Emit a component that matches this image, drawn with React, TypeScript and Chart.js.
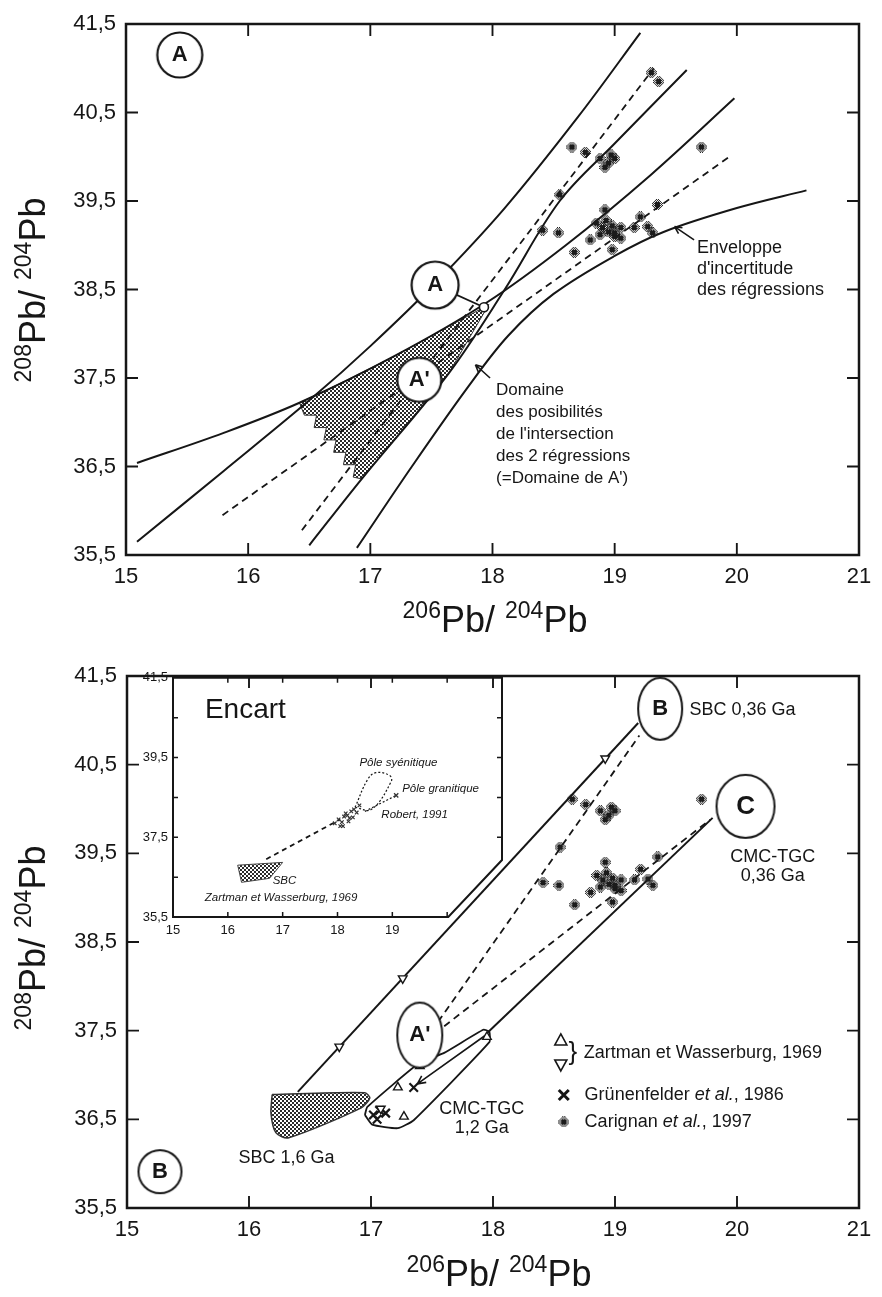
import React, { useEffect, useRef } from 'react';
import { Chart, registerables } from 'chart.js';

Chart.register(...registerables);

const FONT = "'Liberation Sans', Arial, Helvetica, sans-serif";
const INK = '#161616';

// ---------- axes ----------
const xTicks = [15, 16, 17, 18, 19, 20, 21];
const yTicks = [35.5, 36.5, 37.5, 38.5, 39.5, 40.5, 41.5];
const insetYLabelled = [35.5, 37.5, 39.5, 41.5];
const insetXLabelled = [15, 16, 17, 18, 19];
const insetCut = { x: 20.02, y: 36.93 };

// ---------- Carignan et al., 1997 ----------
const carignanX = [19.3, 19.36, 18.65, 18.76, 18.88, 18.95, 19.0, 18.92, 18.97, 19.71, 18.55, 18.41, 18.54, 18.92, 18.85, 18.9, 18.95, 19.0, 19.05, 18.88, 18.98, 19.05, 18.93, 19.0, 18.67, 18.8, 18.98, 19.16, 19.21, 19.27, 19.31, 19.35];
const carignanY = [40.95, 40.85, 40.11, 40.05, 39.98, 39.93, 39.98, 39.88, 40.02, 40.11, 39.57, 39.17, 39.14, 39.4, 39.25, 39.2, 39.15, 39.1, 39.2, 39.12, 39.22, 39.08, 39.28, 39.14, 38.92, 39.06, 38.95, 39.2, 39.32, 39.21, 39.14, 39.46];

// ---------- panel A : regressions and envelopes ----------
const reg1UpX = [15.09, 15.8, 16.52, 17.0, 17.53, 18.1, 18.7, 19.21];
const reg1UpY = [35.65, 36.45, 37.27, 37.86, 38.57, 39.42, 40.45, 41.4];
const reg1LoX = [16.5, 16.93, 17.64, 18.1, 18.55, 19.0, 19.59];
const reg1LoY = [35.61, 36.36, 37.55, 38.5, 39.5, 40.15, 40.98];
const reg2UpX = [15.09, 15.8, 16.42, 17.2, 17.95, 18.6, 19.3, 19.98];
const reg2UpY = [36.54, 36.88, 37.22, 37.75, 38.35, 39.0, 39.8, 40.66];
const reg2LoX = [16.89, 17.34, 17.8, 18.13, 18.5, 19.0, 19.4, 20.0, 20.57];
const reg2LoY = [35.58, 36.5, 37.4, 37.98, 38.45, 38.88, 39.15, 39.42, 39.62];
const dash1X = [16.44, 19.32];
const dash1Y = [35.78, 41.0];
const dash2X = [15.79, 19.96];
const dash2Y = [35.95, 40.02];
const shadeX = [16.42, 16.8, 17.2, 17.6, 17.97, 17.64, 17.3, 16.93, 16.86, 16.88, 16.78, 16.8, 16.7, 16.72, 16.62, 16.64, 16.54, 16.56, 16.46, 16.42];
const shadeY = [37.22, 37.47, 37.75, 38.05, 38.33, 37.55, 36.98, 36.36, 36.38, 36.52, 36.52, 36.66, 36.66, 36.8, 36.8, 36.94, 36.94, 37.08, 37.08, 37.22];
const aPointX = [17.93];
const aPointY = [38.3];
const aLinkX = [17.53, 17.93];
const aLinkY = [38.55, 38.3];
const topCircleX = [15.44, 17.53, 17.4];
const topCircleY = [41.15, 38.55, 37.48];
const topCircleD = [45, 47, 44];
const topCircleLabel = ['A', 'A', "A'"];

// ---------- panel B ----------
const sbcLineX = [16.4, 19.19];
const sbcLineY = [36.81, 40.97];
const cmcLineX = [17.95, 19.8];
const cmcLineY = [37.47, 39.9];
const dashBX = [17.55, 19.2];
const dashBY = [37.6, 40.83];
const dashCX = [17.6, 19.78];
const dashCY = [37.55, 39.88];
const sbc16X = [16.19, 16.95, 16.99, 16.92, 16.32, 16.22, 16.18, 16.19];
const sbc16Y = [36.78, 36.8, 36.74, 36.63, 36.29, 36.35, 36.57, 36.78];
const capsuleX = [16.95, 17.01, 17.22, 17.35, 17.97, 17.97, 17.92, 17.6, 17.4, 16.97, 16.95];
const capsuleY = [36.55, 36.44, 36.4, 36.49, 37.37, 37.49, 37.51, 37.25, 37.14, 36.64, 36.55];
const zartUpX = [17.4, 17.22, 17.27, 17.95];
const zartUpY = [37.1, 36.86, 36.53, 37.43];
const zartDownX = [16.74, 17.26, 18.92, 17.08];
const zartDownY = [37.32, 38.09, 40.57, 36.62];
const grunX = [17.02, 17.07, 17.12, 17.05, 17.35];
const grunY = [36.55, 36.6, 36.57, 36.5, 36.86];
const botEllX = [17.4, 19.37, 20.07, 15.27];
const botEllY = [37.45, 41.13, 40.03, 35.91];
const botEllW = [45, 44, 58, 43];
const botEllH = [65, 62, 63, 43];
const botEllLabel = ["A'", 'B', 'C', 'B'];

// ---------- inset (Encart) ----------
const insSbcX = [16.18, 17.0, 16.76, 16.25, 16.18];
const insSbcY = [36.8, 36.87, 36.47, 36.37, 36.8];
const insDashX = [16.7, 18.05];
const insDashY = [36.95, 37.95];
const robertX = [17.95, 18.02, 18.08, 18.12, 18.18, 18.22, 18.25, 18.3, 18.35, 18.4, 18.1, 18.2, 18.28, 18.05, 18.15];
const robertY = [37.85, 37.95, 37.88, 38.02, 38.05, 37.98, 38.15, 38.2, 38.12, 38.3, 37.78, 37.9, 38.0, 37.78, 38.1];
const syenLoopX = [18.32, 18.55, 18.7, 18.95, 18.98, 18.62, 18.32];
const syenLoopY = [38.25, 38.95, 39.12, 39.05, 38.9, 38.2, 38.25];
const graniteX = [18.5, 19.07];
const graniteY = [38.15, 38.55];

type Part = { t: string; i?: boolean };
type Note = { x: number; y: number; lines: (string | Part[])[]; size: number; lh?: number; align?: 'left' | 'center'; bold?: boolean; italic?: boolean };
type Arrow = { x1: number; y1: number; x2: number; y2: number; head?: number };
type Sym = { kind: 'up' | 'down' | 'cross' | 'blob' | 'brace'; x: number; y: number };

const pts = (xs: number[], ys: number[]) => xs.map((x, i) => ({ x, y: ys[i] }));
const lineDs = (xs: number[], ys: number[], extra: any = {}) => ({
  data: pts(xs, ys), showLine: true, pointRadius: 0, borderColor: INK, borderWidth: 2,
  tension: 0.35, fill: false, order: 5, ...extra,
});
const pointDs = (xs: number[], ys: number[], extra: any = {}) => ({
  data: pts(xs, ys), showLine: false, order: 4, ...extra,
});

function makeChecker(ctx: CanvasRenderingContext2D) {
  const c = document.createElement('canvas');
  c.width = 4; c.height = 4;
  const g = c.getContext('2d')!;
  g.fillStyle = '#fff'; g.fillRect(0, 0, 4, 4);
  g.fillStyle = '#2a2a2a'; g.fillRect(0, 0, 2, 2); g.fillRect(2, 2, 2, 2);
  return ctx.createPattern(c, 'repeat')!;
}
function makeBlob() {
  const c = document.createElement('canvas');
  c.width = 11; c.height = 11;
  const g = c.getContext('2d')!;
  g.fillStyle = '#1b1b1b';
  for (let i = 0; i < 11; i++) for (let j = 0; j < 11; j++) {
    const d = Math.hypot(i - 5, j - 5);
    if (d <= 5.2 && ((i + j) % 2 === 0 || d < 2.6)) g.fillRect(i, j, 1, 1);
  }
  return c;
}
function makeEllipse(w: number, h: number, lw = 2) {
  const c = document.createElement('canvas');
  c.width = Math.ceil(w + lw * 2 + 2); c.height = Math.ceil(h + lw * 2 + 2);
  const g = c.getContext('2d')!;
  g.beginPath();
  g.ellipse(c.width / 2, c.height / 2, w / 2, h / 2, 0, 0, Math.PI * 2);
  g.fillStyle = '#fff'; g.fill();
  g.lineWidth = lw; g.strokeStyle = INK; g.stroke();
  return c;
}

function framePlugin(o: { xt: number[]; yt: number[]; len: number; lw: number; cut?: { x: number; y: number } }) {
  return {
    id: 'frame',
    afterDatasetsDraw(chart: any) {
      const { ctx, chartArea: a, scales } = chart;
      const xs = scales.x, ys = scales.y;
      ctx.save();
      ctx.strokeStyle = INK; ctx.lineWidth = o.lw; ctx.lineJoin = 'miter';
      ctx.beginPath();
      if (o.cut) {
        const cx = xs.getPixelForValue(o.cut.x), cy = ys.getPixelForValue(o.cut.y);
        ctx.moveTo(a.left, a.top); ctx.lineTo(a.right, a.top); ctx.lineTo(a.right, cy);
        ctx.lineTo(cx, a.bottom); ctx.lineTo(a.left, a.bottom); ctx.closePath();
      } else {
        ctx.rect(a.left, a.top, a.right - a.left, a.bottom - a.top);
      }
      ctx.stroke();
      ctx.lineWidth = Math.max(1.5, o.lw * 0.75);
      ctx.beginPath();
      o.xt.forEach((v) => {
        if (v <= xs.min || v >= xs.max) return;
        const p = xs.getPixelForValue(v);
        ctx.moveTo(p, a.top); ctx.lineTo(p, a.top + o.len);
        if (!o.cut || v < o.cut.x) { ctx.moveTo(p, a.bottom); ctx.lineTo(p, a.bottom - o.len); }
      });
      o.yt.forEach((v) => {
        if (v <= ys.min || v >= ys.max) return;
        const p = ys.getPixelForValue(v);
        ctx.moveTo(a.left, p); ctx.lineTo(a.left + o.len, p);
        if (!o.cut || v > o.cut.y) { ctx.moveTo(a.right, p); ctx.lineTo(a.right - o.len, p); }
      });
      ctx.stroke();
      ctx.restore();
    },
  };
}

function notesPlugin(notes: Note[], arrows: Arrow[], syms: Sym[], blob?: HTMLCanvasElement) {
  return {
    id: 'notes',
    afterDatasetsDraw(chart: any) {
      const { ctx, scales } = chart;
      const X = (v: number) => scales.x.getPixelForValue(v);
      const Y = (v: number) => scales.y.getPixelForValue(v);
      ctx.save();
      ctx.strokeStyle = INK; ctx.fillStyle = INK; ctx.lineWidth = 1.6;
      arrows.forEach((a) => {
        const x1 = X(a.x1), y1 = Y(a.y1), x2 = X(a.x2), y2 = Y(a.y2);
        const h = a.head ?? 8;
        const ang = Math.atan2(y2 - y1, x2 - x1);
        ctx.beginPath();
        ctx.moveTo(x1, y1); ctx.lineTo(x2, y2);
        ctx.moveTo(x2, y2); ctx.lineTo(x2 - h * Math.cos(ang - 0.45), y2 - h * Math.sin(ang - 0.45));
        ctx.moveTo(x2, y2); ctx.lineTo(x2 - h * Math.cos(ang + 0.45), y2 - h * Math.sin(ang + 0.45));
        ctx.stroke();
      });
      syms.forEach((s) => {
        const x = X(s.x), y = Y(s.y);
        ctx.beginPath();
        if (s.kind === 'up' || s.kind === 'down') {
          const d = s.kind === 'up' ? 1 : -1;
          ctx.lineWidth = 1.6;
          ctx.moveTo(x, y - 6 * d); ctx.lineTo(x + 6, y + 5 * d); ctx.lineTo(x - 6, y + 5 * d); ctx.closePath();
          ctx.stroke();
        } else if (s.kind === 'cross') {
          ctx.lineWidth = 3;
          ctx.moveTo(x - 5, y - 5); ctx.lineTo(x + 5, y + 5); ctx.moveTo(x + 5, y - 5); ctx.lineTo(x - 5, y + 5);
          ctx.stroke();
        } else if (s.kind === 'blob' && blob) {
          ctx.drawImage(blob, x - blob.width / 2, y - blob.height / 2);
        } else if (s.kind === 'brace') {
          ctx.font = `26px ${FONT}`; ctx.textAlign = 'center'; ctx.textBaseline = 'middle';
          ctx.fillText('}', x, y);
        }
      });
      notes.forEach((n) => {
        const lh = n.lh ?? n.size * 1.2;
        n.lines.forEach((ln, k) => {
          const parts: Part[] = typeof ln === 'string' ? [{ t: ln }] : ln;
          const fontOf = (p: Part) => `${(p.i || n.italic) ? 'italic ' : ''}${n.bold ? 'bold ' : ''}${n.size}px ${FONT}`;
          const widths = parts.map((p) => { ctx.font = fontOf(p); return ctx.measureText(p.t).width; });
          const total = widths.reduce((s, w) => s + w, 0);
          let px = X(n.x) - (n.align === 'center' ? total / 2 : 0);
          const py = Y(n.y) + k * lh;
          ctx.textAlign = 'left'; ctx.textBaseline = 'middle'; ctx.fillStyle = INK;
          parts.forEach((p, i) => { ctx.font = fontOf(p); ctx.fillText(p.t, px, py); px += widths[i]; });
        });
      });
      ctx.restore();
    },
  };
}

function scalesCfg(o: { xt: number[]; yt: number[]; size: number; xpad: number; ypad: number; yWidth: number; xHeight: number; xLab: (v: number) => string; yLab: (v: number) => string }) {
  const tick = (pad: number, cb: (v: number) => string) => ({
    color: INK, font: { family: FONT, size: o.size }, padding: pad, autoSkip: false, maxRotation: 0,
    callback: (v: any) => cb(Number(v)),
  });
  return {
    x: {
      type: 'linear', min: 15, max: 21,
      afterBuildTicks: (s: any) => { s.ticks = o.xt.map((v) => ({ value: v })); },
      afterFit: (s: any) => { s.height = o.xHeight; },
      ticks: tick(o.xpad, o.xLab),
      grid: { display: false, drawTicks: false }, border: { display: false },
    },
    y: {
      type: 'linear', min: 35.5, max: 41.5,
      afterBuildTicks: (s: any) => { s.ticks = o.yt.map((v) => ({ value: v })); },
      afterFit: (s: any) => { s.width = o.yWidth; },
      ticks: tick(o.ypad, o.yLab),
      grid: { display: false, drawTicks: false }, border: { display: false },
    },
  };
}

const baseOpts = (padding: any, scales: any) => ({
  responsive: false, animation: false, devicePixelRatio: 1, events: [],
  layout: { padding },
  plugins: { legend: { display: false }, tooltip: { enabled: false } },
  scales,
});

const comma = (v: number) => String(v).replace('.', ',');

export default function App() {
  const topRef = useRef<HTMLCanvasElement>(null);
  const botRef = useRef<HTMLCanvasElement>(null);
  const insRef = useRef<HTMLCanvasElement>(null);

  useEffect(() => {
    const blob = makeBlob();
    const patTop = makeChecker(topRef.current!.getContext('2d')!);
    const patBot = makeChecker(botRef.current!.getContext('2d')!);
    const patIns = makeChecker(insRef.current!.getContext('2d')!);

    // ----- panel A -----
    const topCircles = topCircleD.map((d) => makeEllipse(d, d, 2.2));
    const top = new Chart(topRef.current!, {
      type: 'scatter',
      data: {
        datasets: [
          lineDs(shadeX, shadeY, { fill: 'shape', backgroundColor: patTop, borderWidth: 1, borderColor: '#333', tension: 0, order: 20 }),
          lineDs(reg1UpX, reg1UpY),
          lineDs(reg1LoX, reg1LoY),
          lineDs(reg2UpX, reg2UpY),
          lineDs(reg2LoX, reg2LoY),
          lineDs(dash1X, dash1Y, { borderDash: [7, 5], borderWidth: 1.8, tension: 0 }),
          lineDs(dash2X, dash2Y, { borderDash: [7, 5], borderWidth: 1.8, tension: 0 }),
          lineDs(aLinkX, aLinkY, { borderWidth: 1.8, tension: 0, order: 6 }),
          pointDs(carignanX, carignanY, { pointStyle: blob, pointRadius: 5, order: 4 }),
          pointDs(aPointX, aPointY, { pointStyle: 'circle', pointRadius: 4.5, backgroundColor: '#fff', borderColor: INK, borderWidth: 1.6, order: 3 }),
          pointDs(topCircleX, topCircleY, { pointStyle: topCircles, pointRadius: 22, order: 2 }),
        ],
      } as any,
      options: baseOpts({ top: 24, right: 19, left: 0, bottom: 0 }, scalesCfg({
        xt: xTicks, yt: yTicks, size: 22, xpad: 9, ypad: 10, yWidth: 126, xHeight: 95,
        xLab: (v) => String(v), yLab: comma,
      })) as any,
      plugins: [
        framePlugin({ xt: xTicks, yt: yTicks, len: 12, lw: 2.5 }),
        notesPlugin([
          ...topCircleLabel.map((t, i) => ({ x: topCircleX[i], y: topCircleY[i], lines: [t], size: 22, bold: true, align: 'center' as const })),
          { x: 19.673, y: 38.969, lines: ['Enveloppe', "d'incertitude", 'des régressions'], size: 18, lh: 21, align: 'left' },
          { x: 18.029, y: 37.364, lines: ['Domaine', 'des posibilités', "de l'intersection", 'des 2 régressions', "(=Domaine de A')"], size: 17, lh: 22, align: 'left' },
        ], [
          { x1: 19.65, y1: 39.06, x2: 19.49, y2: 39.21 },
          { x1: 17.98, y1: 37.5, x2: 17.86, y2: 37.65 },
        ], []),
      ],
    });

    // ----- panel B -----
    const botEll = botEllW.map((w, i) => makeEllipse(w, botEllH[i], 2));
    const bot = new Chart(botRef.current!, {
      type: 'scatter',
      data: {
        datasets: [
          lineDs(sbc16X, sbc16Y, { fill: 'shape', backgroundColor: patBot, borderWidth: 1.5, borderColor: '#333', tension: 0.25, order: 20 }),
          lineDs(sbcLineX, sbcLineY, { tension: 0 }),
          lineDs(cmcLineX, cmcLineY, { tension: 0 }),
          lineDs(capsuleX, capsuleY, { tension: 0.15, borderWidth: 1.8 }),
          lineDs(dashBX, dashBY, { borderDash: [7, 5], borderWidth: 1.8, tension: 0 }),
          lineDs(dashCX, dashCY, { borderDash: [7, 5], borderWidth: 1.8, tension: 0 }),
          pointDs(carignanX, carignanY, { pointStyle: blob, pointRadius: 5, order: 4 }),
          pointDs(zartUpX, zartUpY, { pointStyle: 'triangle', pointRadius: 5, backgroundColor: '#fff', borderColor: INK, borderWidth: 1.4, order: 3 }),
          pointDs(zartDownX, zartDownY, { pointStyle: 'triangle', rotation: 180, pointRadius: 5, backgroundColor: '#fff', borderColor: INK, borderWidth: 1.4, order: 3 }),
          pointDs(grunX, grunY, { pointStyle: 'crossRot', pointRadius: 6, borderColor: INK, borderWidth: 2.2, order: 3 }),
          pointDs(botEllX, botEllY, { pointStyle: botEll, pointRadius: 22, order: 2 }),
        ],
      } as any,
      options: baseOpts({ top: 26, right: 16, left: 0, bottom: 0 }, scalesCfg({
        xt: xTicks, yt: yTicks, size: 22, xpad: 9, ypad: 10, yWidth: 127, xHeight: 89,
        xLab: (v) => String(v), yLab: comma,
      })) as any,
      plugins: [
        framePlugin({ xt: xTicks, yt: yTicks, len: 12, lw: 2.5 }),
        notesPlugin([
          ...botEllLabel.map((t, i) => ({ x: botEllX[i], y: botEllY[i], lines: [t], size: i === 2 ? 26 : 22, bold: true, align: 'center' as const })),
          { x: 19.61, y: 41.117, lines: ['SBC 0,36 Ga'], size: 18, align: 'left' },
          { x: 20.293, y: 39.459, lines: ['CMC-TGC', '0,36 Ga'], size: 18, lh: 19, align: 'center' },
          { x: 17.907, y: 36.617, lines: ['CMC-TGC', '1,2 Ga'], size: 18, lh: 19, align: 'center' },
          { x: 16.307, y: 36.064, lines: ['SBC 1,6 Ga'], size: 18, align: 'center' },
          { x: 18.743, y: 37.248, lines: ['Zartman et Wasserburg, 1969'], size: 18, align: 'left' },
          { x: 18.751, y: 36.775, lines: [[{ t: 'Grünenfelder ' }, { t: 'et al.', i: true }, { t: ', 1986' }]], size: 18, align: 'left' },
          { x: 18.751, y: 36.47, lines: [[{ t: 'Carignan ' }, { t: 'et al.', i: true }, { t: ', 1997' }]], size: 18, align: 'left' },
        ], [
          { x1: 17.93, y1: 37.44, x2: 17.38, y2: 36.9, head: 9 },
        ], [
          { kind: 'up', x: 18.556, y: 37.395 },
          { kind: 'down', x: 18.556, y: 37.113 },
          { kind: 'brace', x: 18.655, y: 37.255 },
          { kind: 'cross', x: 18.58, y: 36.775 },
          { kind: 'blob', x: 18.58, y: 36.47 },
        ], blob),
      ],
    });

    // ----- inset -----
    const ins = new Chart(insRef.current!, {
      type: 'scatter',
      data: {
        datasets: [
          lineDs(insSbcX, insSbcY, { fill: 'shape', backgroundColor: patIns, borderWidth: 1, borderColor: '#444', tension: 0, order: 20 }),
          lineDs(insDashX, insDashY, { borderDash: [5, 4], borderWidth: 1.8, tension: 0 }),
          lineDs(syenLoopX, syenLoopY, { borderDash: [2, 2], borderWidth: 1.2, tension: 0.4 }),
          lineDs(graniteX, graniteY, { borderDash: [2, 2], borderWidth: 1.2, tension: 0 }),
          pointDs(robertX, robertY, { pointStyle: 'crossRot', pointRadius: 2.5, borderColor: '#333', borderWidth: 1.2 }),
          pointDs([graniteX[1]], [graniteY[1]], { pointStyle: 'crossRot', pointRadius: 3, borderColor: '#333', borderWidth: 1.3 }),
        ],
      } as any,
      options: baseOpts({ top: 12, right: 5, left: 0, bottom: 0 }, scalesCfg({
        xt: xTicks, yt: yTicks, size: 13, xpad: 6, ypad: 5, yWidth: 45, xHeight: 33,
        xLab: (v) => (insetXLabelled.includes(v) ? String(v) : ''),
        yLab: (v) => (insetYLabelled.includes(v) ? comma(v) : ''),
      })) as any,
      plugins: [
        framePlugin({ xt: xTicks, yt: yTicks, len: 5, lw: 2, cut: insetCut }),
        notesPlugin([
          { x: 15.582, y: 40.675, lines: ['Encart'], size: 28, align: 'left' },
          { x: 18.4, y: 39.375, lines: ['Pôle syénitique'], size: 11.5, italic: true, align: 'left' },
          { x: 19.18, y: 38.725, lines: ['Pôle granitique'], size: 11.5, italic: true, align: 'left' },
          { x: 18.8, y: 38.075, lines: ['Robert, 1991'], size: 11.5, italic: true, align: 'left' },
          { x: 16.818, y: 36.4, lines: ['SBC'], size: 11.5, italic: true, align: 'left' },
          { x: 15.58, y: 35.975, lines: ['Zartman et Wasserburg, 1969'], size: 11.5, italic: true, align: 'left' },
        ], [], []),
      ],
    });

    return () => { top.destroy(); bot.destroy(); ins.destroy(); };
  }, []);

  const titleStyle: React.CSSProperties = {
    position: 'absolute', width: 300, height: 36, lineHeight: '36px', textAlign: 'center',
    fontFamily: FONT, fontSize: 36, color: INK, whiteSpace: 'nowrap',
  };
  const sup: React.CSSProperties = { fontSize: 23, position: 'relative', top: -14 };
  const label = (
    <>
      <span style={sup}>206</span>Pb/ <span style={sup}>204</span>Pb
    </>
  );
  const ylabel = (
    <>
      <span style={sup}>208</span>Pb/ <span style={sup}>204</span>Pb
    </>
  );

  return (
    <div style={{ position: 'fixed', left: 0, top: 0, width: 882, height: 1297, background: '#fff', overflow: 'hidden' }}>
      <canvas ref={topRef} width={882} height={650} style={{ position: 'absolute', left: 0, top: 0, width: 882, height: 650 }} />
      <canvas ref={botRef} width={882} height={647} style={{ position: 'absolute', left: 0, top: 650, width: 882, height: 647 }} />
      <canvas ref={insRef} width={380} height={285} style={{ position: 'absolute', left: 128, top: 665, width: 380, height: 285 }} />
      <div style={{ ...titleStyle, left: 495 - 150, top: 602 }}>{label}</div>
      <div style={{ ...titleStyle, left: 499 - 150, top: 1256 }}>{label}</div>
      <div style={{ ...titleStyle, left: 32.5 - 150, top: 290 - 18, transform: 'rotate(-90deg)' }}>{ylabel}</div>
      <div style={{ ...titleStyle, left: 32.5 - 150, top: 938 - 18, transform: 'rotate(-90deg)' }}>{ylabel}</div>
    </div>
  );
}
